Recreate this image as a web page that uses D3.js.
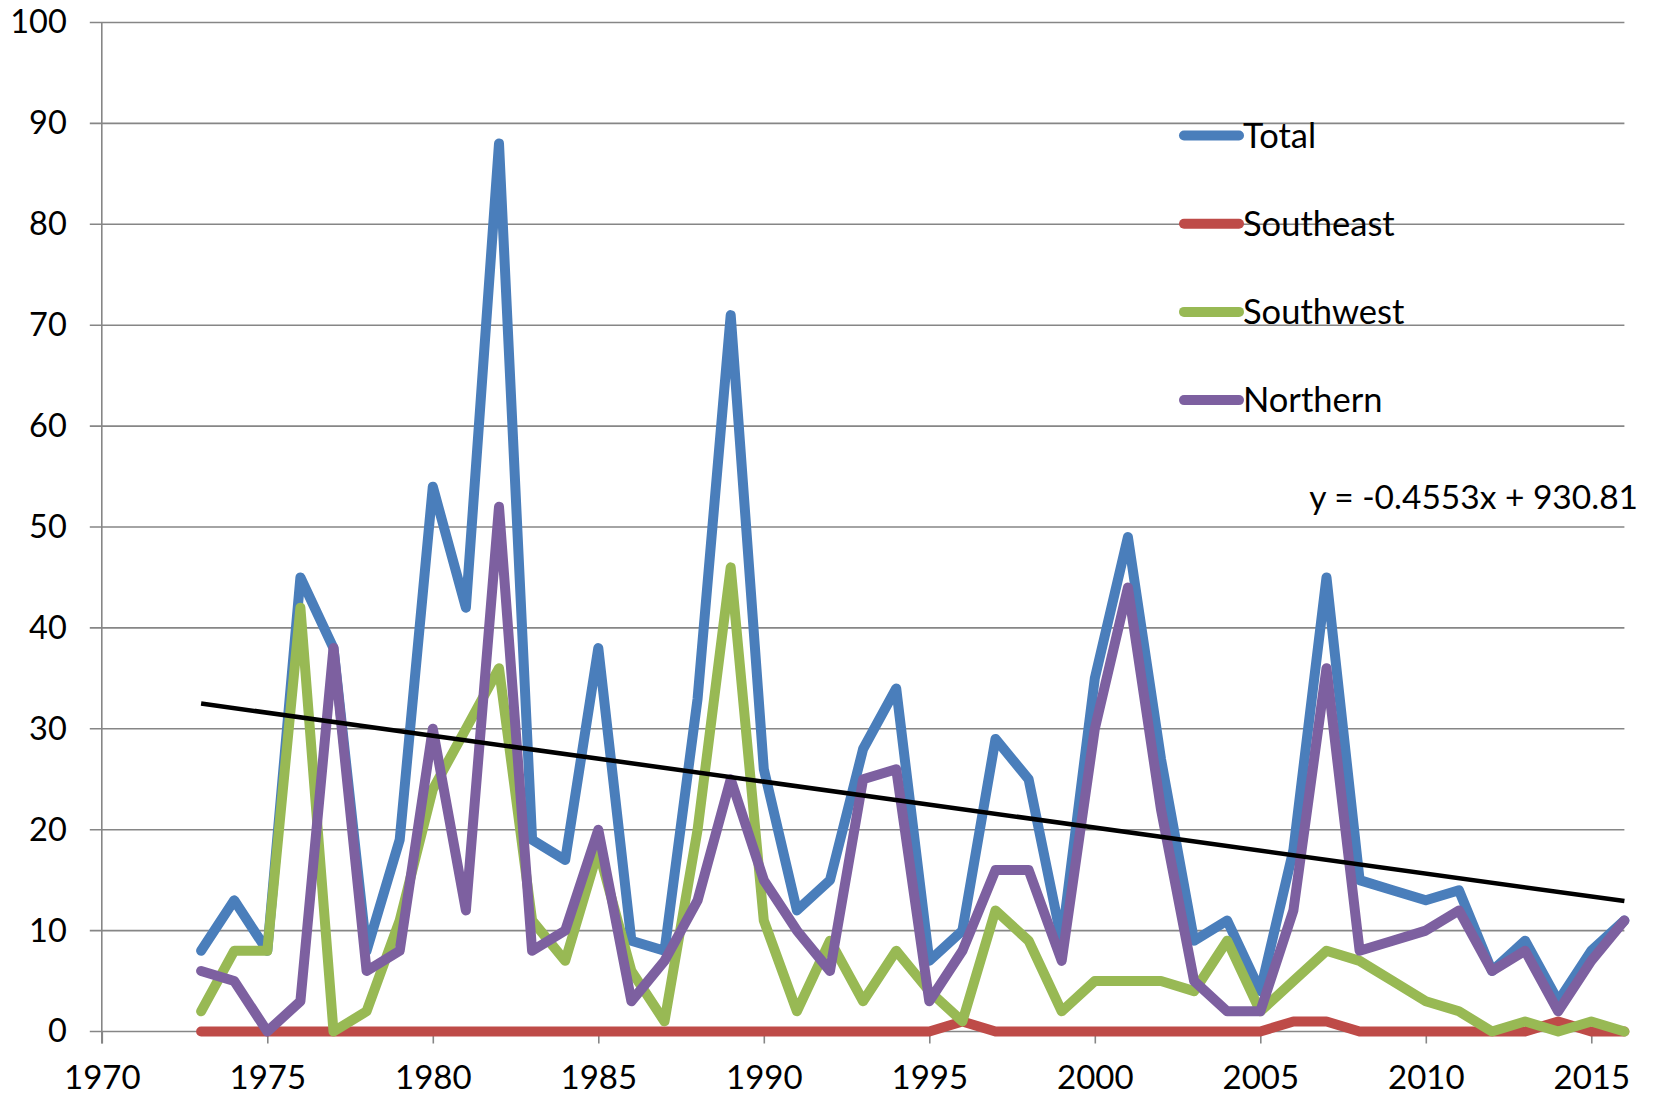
<!DOCTYPE html>
<html>
<head>
<meta charset="utf-8">
<script src="https://cdn.jsdelivr.net/npm/d3@7"></script>
<style>
  body { margin: 0; background: #fff; }
  svg { display: block; }
  text { font-family: Lato, "Open Sans", sans-serif; fill: #000; }
</style>
</head>
<body>
<script>

// data
var years = [1973, 1974, 1975, 1976, 1977, 1978, 1979, 1980, 1981, 1982,
             1983, 1984, 1985, 1986, 1987, 1988, 1989, 1990, 1991, 1992,
             1993, 1994, 1995, 1996, 1997, 1998, 1999, 2000, 2001, 2002,
             2003, 2004, 2005, 2006, 2007, 2008, 2009, 2010, 2011, 2012,
             2013, 2014, 2015, 2016];

var total     = [8, 13, 8, 45, 38, 8, 19, 54, 42, 88,
                 19, 17, 38, 9, 8, 33, 71, 26, 12, 15,
                 28, 34, 7, 10, 29, 25, 9, 35, 49, 27,
                 9, 11, 4, 18, 45, 15, 14, 13, 14, 6,
                 9, 3, 8, 11];
var southeast = [0, 0, 0, 0, 0, 0, 0, 0, 0, 0,
                 0, 0, 0, 0, 0, 0, 0, 0, 0, 0,
                 0, 0, 0, 1, 0, 0, 0, 0, 0, 0,
                 0, 0, 0, 1, 1, 0, 0, 0, 0, 0,
                 0, 1, 0, 0];
var southwest = [2, 8, 8, 42, 0, 2, 11, 24, 30, 36,
                 11, 7, 18, 6, 1, 20, 46, 11, 2, 9,
                 3, 8, 4, 1, 12, 9, 2, 5, 5, 5,
                 4, 9, 2, 5, 8, 7, 5, 3, 2, 0,
                 1, 0, 1, 0];
var northern  = [6, 5, 0, 3, 38, 6, 8, 30, 12, 52,
                 8, 10, 20, 3, 7, 13, 25, 15, 10, 6,
                 25, 26, 3, 8, 16, 16, 7, 30, 44, 22,
                 5, 2, 2, 12, 36, 8, 9, 10, 12, 6,
                 8, 2, 7, 11];

var seriesNames = ["Total", "Southeast", "Southwest", "Northern"];
var yTicks = [0, 10, 20, 30, 40, 50, 60, 70, 80, 90, 100];
var xTicks = [1970, 1975, 1980, 1985, 1990, 1995, 2000, 2005, 2010, 2015];

// linear trend of Total, as printed on the chart
var trendSlope = -0.4553,
    trendIntercept = 930.81;

var width = 1654,
    height = 1097;

var colors = ["#4a7ebb", "#be4b48", "#98b954", "#7d60a0"];

var svg = d3.select("body").append("svg")
    .attr("width", width)
    .attr("height", height);

var x = d3.scaleLinear().domain([1970, 2016]).range([101.8, 1624.4]);
var y = d3.scaleLinear().domain([0, 100]).range([1031.5, 22.5]);

// gridlines
svg.append("g")
  .selectAll("line")
  .data(yTicks)
  .enter().append("line")
    .attr("x1", x(1970) - 12)
    .attr("x2", x(2016))
    .attr("y1", function(d) { return y(d); })
    .attr("y2", function(d) { return y(d); })
    .attr("stroke", "#868686")
    .attr("stroke-width", 1.6);

// y axis
var yAxis = svg.append("g")
    .attr("transform", "translate(" + x(1970) + ",0)")
    .call(d3.axisLeft(y).tickValues(yTicks).tickSize(0).tickPadding(35));
yAxis.select(".domain").remove();
yAxis.selectAll("text")
    .style("font-family", "Lato, 'Open Sans', sans-serif")
    .style("font-size", "32.5px")
    .attr("fill", "#000");

svg.append("line")
    .attr("x1", x(1970)).attr("x2", x(1970))
    .attr("y1", y(100)).attr("y2", y(0) + 12)
    .attr("stroke", "#868686")
    .attr("stroke-width", 1.6);

// x axis
var xAxis = svg.append("g")
    .attr("transform", "translate(0," + y(0) + ")")
    .call(d3.axisBottom(x).tickValues(xTicks).tickSize(12).tickPadding(22).tickFormat(d3.format("d")));
xAxis.select(".domain").remove();
xAxis.selectAll("line")
    .attr("stroke", "#868686")
    .attr("stroke-width", 1.6);
xAxis.selectAll("text")
    .style("font-family", "Lato, 'Open Sans', sans-serif")
    .style("font-size", "33px")
    .attr("fill", "#000");

// series
var seriesData = [total, southeast, southwest, northern];

var line = d3.line()
    .x(function(d, i) { return x(years[i]); })
    .y(function(d) { return y(d); });

svg.append("g")
  .selectAll("path")
  .data(seriesData)
  .enter().append("path")
    .attr("d", line)
    .attr("fill", "none")
    .attr("stroke", function(d, i) { return colors[i]; })
    .attr("stroke-width", 10)
    .attr("stroke-linejoin", "round")
    .attr("stroke-linecap", "round");

// trend line
var t0 = years[0], t1 = years[years.length - 1];
svg.append("line")
    .attr("x1", x(t0))
    .attr("y1", y(trendSlope * t0 + trendIntercept))
    .attr("x2", x(t1))
    .attr("y2", y(trendSlope * t1 + trendIntercept))
    .attr("stroke", "#000")
    .attr("stroke-width", 4.5);

svg.append("text")
    .attr("x", 1638)
    .attr("y", 509)
    .attr("text-anchor", "end")
    .style("font-size", "33.5px")
    .text("y = -0.4553x + 930.81");

// legend
var legend = svg.append("g")
  .selectAll("g")
  .data(seriesNames)
  .enter().append("g")
    .attr("transform", function(d, i) { return "translate(1184," + (135.5 + i * 88.2) + ")"; });

legend.append("line")
    .attr("x1", 0).attr("x2", 55)
    .attr("y1", 0).attr("y2", 0)
    .attr("stroke", function(d, i) { return colors[i]; })
    .attr("stroke-width", 10)
    .attr("stroke-linecap", "round");

legend.append("text")
    .attr("x", 59)
    .attr("y", 12)
    .style("font-size", "34.5px")
    .text(function(d) { return d; });

</script>
</body>
</html>
